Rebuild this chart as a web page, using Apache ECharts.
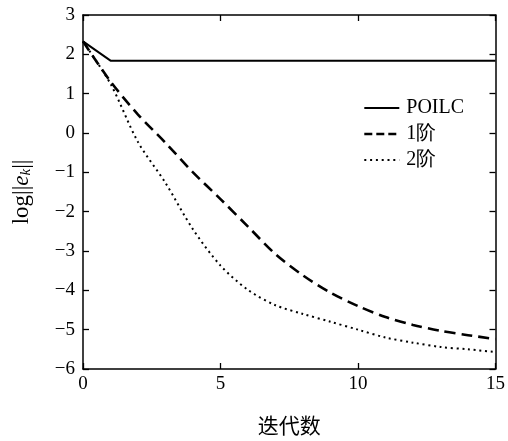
<!DOCTYPE html>
<html>
<head>
<meta charset="utf-8">
<script src="https://cdn.jsdelivr.net/npm/echarts@6/dist/echarts.min.js"></script>
<style>html,body{margin:0;padding:0;background:#fff;}#c{width:508px;height:441px;}</style>
</head>
<body>
<div id="c"></div>
<script>
const iterations = [0,1,2,3,4,5,6,7,8,9,10,11,12,13,14,15];
const poilc = [2.33,1.84,1.84,1.84,1.84,1.84,1.84,1.84,1.84,1.84,1.84,1.84,1.84,1.84,1.84,1.84];
const order1 = [2.33,1.31,0.47,-0.25,-1.0,-1.68,-2.38,-3.08,-3.62,-4.06,-4.4,-4.68,-4.88,-5.03,-5.14,-5.24];
const order2 = [2.33,1.25,-0.23,-1.27,-2.45,-3.37,-3.99,-4.38,-4.6,-4.8,-5.0,-5.2,-5.33,-5.44,-5.5,-5.57];
const seriesNames = ['POILC','1阶','2阶'];
const xName = '迭代数';

const pairs = arr => iterations.map((x,i)=>[x,arr[i]]);
const serif = 'Liberation Serif';
const minus = v => String(v).replace('-', '\u2212');

const chart = echarts.init(document.getElementById('c'));
const axisLine = {show:true, onZero:false, lineStyle:{color:'#000', width:1.5}};
const tick = {inside:true, length:6, lineStyle:{color:'#000', width:1.3}};
chart.setOption({
  animation:false,
  backgroundColor:'#fff',
  grid:{left:83, right:10, top:15, bottom:69},
  legend:{
    data:[
      {name:seriesNames[0], lineStyle:{type:'solid', width:2}},
      {name:seriesNames[1], lineStyle:{type:[8,4], width:2.6}},
      {name:seriesNames[2], lineStyle:{type:[2,3.8], width:2}}
    ],
    orient:'vertical', left:358, top:93,
    itemWidth:35, itemHeight:14, itemGap:6,
    itemStyle:{opacity:0},
    textStyle:{fontFamily:serif, fontSize:20, color:'#000', padding:[0,0,0,2]}
  },
  xAxis:[{
    type:'value', min:0, max:15, interval:5,
    name:xName, nameLocation:'middle', nameGap:46,
    nameTextStyle:{fontFamily:'Noto Sans CJK SC', fontSize:21, color:'#000'},
    axisLine:axisLine, axisTick:tick,
    axisLabel:{fontFamily:serif, fontSize:19, color:'#000', margin:6},
    splitLine:{show:false}
  },{
    type:'value', min:0, max:15, interval:5, position:'top',
    axisLine:axisLine, axisTick:tick,
    axisLabel:{show:false}, splitLine:{show:false}
  }],
  yAxis:[{
    type:'value', min:-6, max:3, interval:1,
    name:'{t|log||}{e|e}{k|k}{t|||}', nameLocation:'middle', nameGap:49, nameRotate:90,
    nameTextStyle:{rich:{
      t:{fontFamily:serif, fontSize:23, color:'#000'},
      e:{fontFamily:serif, fontSize:23, fontStyle:'italic', color:'#000'},
      k:{fontFamily:serif, fontSize:15, fontStyle:'italic', color:'#000', verticalAlign:'bottom', padding:[10,0,0,0]}
    }},
    axisLine:axisLine, axisTick:tick,
    axisLabel:{fontFamily:serif, fontSize:19, color:'#000', margin:8, formatter:minus},
    splitLine:{show:false}
  },{
    type:'value', min:-6, max:3, interval:1, position:'right',
    axisLine:axisLine, axisTick:tick,
    axisLabel:{show:false}, splitLine:{show:false}
  }],
  series:[
    {name:seriesNames[0], type:'line', data:pairs(poilc), symbol:'none',
     lineStyle:{color:'#000', width:2}, itemStyle:{color:'#000'}},
    {name:seriesNames[1], type:'line', data:pairs(order1), symbol:'none', smooth:0.3,
     lineStyle:{color:'#000', width:2.6, type:[11,6]}, itemStyle:{color:'#000'}},
    {name:seriesNames[2], type:'line', data:pairs(order2), symbol:'none', smooth:0.3,
     lineStyle:{color:'#000', width:2, type:[2,3.7]}, itemStyle:{color:'#000'}}
  ]
});
</script>
</body>
</html>
